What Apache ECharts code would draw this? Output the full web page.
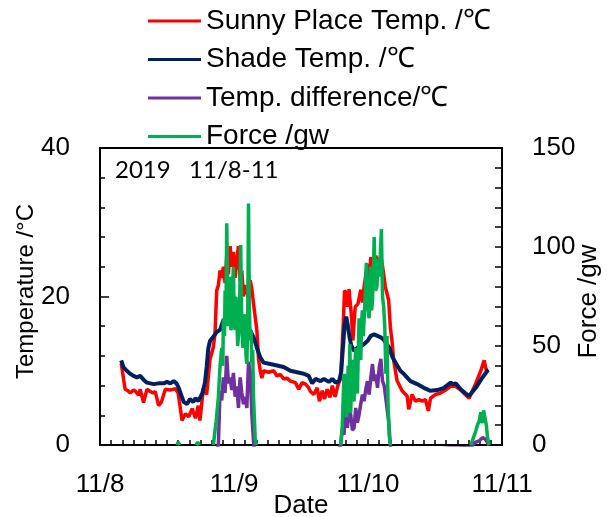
<!DOCTYPE html>
<html>
<head>
<meta charset="utf-8">
<script src="https://cdn.jsdelivr.net/npm/echarts@6/dist/echarts.min.js"></script>
<style>html,body{margin:0;padding:0;background:#fff}#c{width:614px;height:517px}</style>
</head>
<body>
<div id="c"></div>
<script>
// Hours since 11/8 00:00
const dateLabels = ['11/8', '11/9', '11/10', '11/11'];
const seriesNames = ['Sunny Place Temp. /\u2103', 'Shade Temp. /\u2103', 'Temp. difference/\u2103', 'Force /gw'];

const sunnyHours = [3.8,4.2,4.5,5.0,5.4,6.0,6.4,6.9,7.2,7.8,8.4,9.0,9.5,9.9,10.5,11.0,11.7,12.6,13.5,14.0,14.2,14.7,15.3,15.9,16.5,17.1,17.6,17.9,18.5,19.1,19.7,20.3,20.6,20.9,21.2,21.5,21.8,22.1,22.4,22.7,23.0,23.3,23.6,23.9,24.2,24.5,24.8,25.1,25.4,25.7,26.0,26.3,26.6,26.9,27.2,27.5,28.1,28.4,28.7,29.0,29.3,29.6,30.2,31.1,31.7,32.3,32.9,33.5,34.1,35.0,35.6,36.2,36.8,37.3,37.7,38.3,38.9,39.3,39.8,40.2,40.7,41.2,41.6,42.1,42.6,43.1,43.6,43.8,44.1,44.3,44.6,45.0,45.3,45.7,46.2,46.7,47.0,47.3,47.9,48.2,48.5,49.0,49.4,49.8,50.3,50.7,51.1,51.7,52.0,52.3,52.6,53.2,54.1,55.0,55.3,55.9,56.5,57.1,57.7,58.3,58.8,59.2,60.1,61.0,61.9,62.8,63.7,64.6,65.4,66.1,67.3,68.2,68.8,69.2,69.5];
const sunnyTemp = [11.0,9.0,7.5,7.3,7.0,7.4,7.2,6.7,7.5,5.7,7.5,7.2,7.0,7.2,5.3,5.8,7.5,7.4,7.6,7.0,5.9,3.3,4.2,3.8,4.9,3.6,5.3,3.3,7.6,6.8,11.5,13.2,15.0,20.8,21.5,23.5,22.5,24.0,21.8,25.5,23.0,26.8,24.0,26.0,22.5,25.0,26.8,22.0,23.5,20.0,21.5,20.8,19.5,22.2,21.0,19.0,15.4,11.5,10.0,9.0,10.0,9.8,9.8,10.0,9.3,9.5,8.9,9.0,8.6,8.4,7.5,8.4,8.2,7.8,7.2,6.8,7.7,5.9,7.3,6.2,7.5,6.4,8.0,6.5,8.0,9.0,16.8,20.8,20.5,18.6,21.0,17.7,14.1,18.6,19.0,20.9,19.2,21.3,24.4,21.8,25.3,23.1,25.5,24.0,25.5,23.6,21.3,19.5,15.9,14.0,11.4,8.7,7.3,6.6,4.8,6.8,5.9,6.1,5.9,6.1,4.6,6.3,6.8,7.0,7.4,7.9,7.9,7.4,6.8,6.3,8.3,10.0,11.4,10.0,10.2];

const shadeHours = [3.8,4.2,4.8,5.4,6.0,6.6,7.2,7.8,8.4,9.0,9.6,10.5,11.4,12.0,12.6,13.2,13.7,14.1,14.7,15.0,15.6,16.1,16.7,17.1,17.6,18.3,18.8,19.1,19.4,19.7,20.3,20.9,21.5,22.1,22.6,23.0,23.3,23.6,24.0,24.5,25.1,25.7,26.3,26.9,27.5,28.1,28.7,29.3,30.5,31.7,32.9,34.1,35.3,36.5,37.4,38.0,38.6,39.5,40.1,41.0,41.6,42.2,42.8,43.2,43.5,43.8,44.1,44.4,44.7,45.0,45.5,46.1,46.7,47.3,47.9,48.5,49.1,49.7,50.3,50.9,51.8,52.4,53.0,53.8,54.4,55.1,55.6,56.8,58.0,59.2,60.4,61.6,62.8,63.2,63.7,64.6,65.4,66.1,67.3,68.5,69.4,69.6];
const shadeTemp = [11.4,10.5,10.0,9.6,9.3,9.1,9.3,8.8,8.4,8.3,8.2,8.3,8.3,8.5,8.3,8.6,8.3,7.7,6.4,5.8,5.5,6.2,5.8,6.3,5.9,6.9,8.4,10.5,13.0,14.0,14.6,15.2,15.5,16.8,17.0,17.7,17.2,17.5,16.5,15.9,15.7,15.9,15.6,15.4,14.5,13.1,11.8,11.1,10.9,10.7,10.5,10.0,9.8,9.6,9.3,8.3,8.9,8.6,8.9,8.5,8.9,8.4,8.6,9.8,13.0,16.0,17.3,16.0,14.5,13.4,12.7,13.1,13.3,13.6,14.0,14.7,14.9,14.7,14.5,14.1,13.1,11.8,11.0,10.0,9.6,9.0,8.6,8.2,7.7,7.3,7.4,7.7,8.4,8.2,8.3,7.5,7.0,6.6,7.7,9.1,10.0,10.1];

const diffHours = [3.8,5,7,9,11,13,15,17,19,20.5,21.2,21.5,21.8,22.1,22.4,22.7,23.0,23.3,23.6,23.9,24.2,24.5,24.8,25.1,25.4,25.7,26.0,26.3,26.6,26.9,27.2,27.5,27.8,30,33,36,39,42,43.1,43.4,43.7,44.0,44.3,44.6,44.9,45.2,45.5,45.8,46.1,46.4,46.7,47.0,47.3,47.6,47.9,48.2,48.5,48.8,49.1,49.4,49.7,50.0,50.3,50.6,50.9,51.1,51.4,51.7,52.0,52.3,55,58,61,62.8,64,66.3,67.3,68.0,68.5,69.0,69.5,69.6];
const diffTemp = [-0.4,-2.5,-2.2,-1.1,-2.5,-0.9,-2.0,-2.5,-1.5,-1.2,0,7.3,6.0,9.1,7.0,12.0,8.3,9.1,7.4,9.7,6.5,7.9,5.0,9.1,7.0,5.5,6.5,5.0,11.2,9.9,4.1,0.5,-1.5,-1.0,-1.5,-1.2,-2.2,-1.5,0,2.0,1.4,5.0,2.3,4.5,4.1,2.0,2.3,5.0,3.0,4.1,5.5,6.8,5.9,7.5,8.6,6.8,9.0,10.9,8.6,9.5,7.7,10.4,11.6,8.6,8.0,6.8,5.0,3.2,0,-1.5,-2.0,-2.5,-0.5,-0.4,-0.4,-0.3,0.4,0.6,1.0,0.8,0.2,-0.1];

const forceHours = [13.8,14.0,14.3,null,17.2,17.5,17.8,null,20.3,20.8,21.2,21.5,21.8,22.0,22.1,22.3,22.4,22.55,22.7,22.85,23.0,23.15,23.3,23.45,23.6,23.75,23.9,24.05,24.2,24.35,24.5,24.65,24.8,25.0,25.2,25.4,25.6,25.8,26.0,26.15,26.3,26.45,26.6,26.75,26.9,27.05,27.2,27.35,27.5,27.8,28.0,null,43.1,43.4,43.7,43.85,44.0,44.15,44.3,44.45,44.6,44.75,44.9,45.05,45.2,45.35,45.5,45.65,45.8,45.95,46.1,46.25,46.4,46.55,46.7,46.85,47.0,47.15,47.3,47.5,47.7,47.95,48.2,48.35,48.5,48.65,48.8,48.95,49.1,49.35,49.6,49.8,50.0,50.2,50.4,50.6,50.8,51.0,51.2,51.4,51.6,51.8,52.0,null,66.4,66.8,67.3,67.6,67.9,68.2,68.5,68.7,69.0,69.2,69.4,69.7];
const forceGw = [0,1.5,0,null,0,1.5,0,null,0,12,24,40,49,40,64,55,78,60,112,80,73,60,85,58,61,80,90,62,58,75,68,50,55,70,101,60,49,66,61,45,41,60,122,70,53,58,41,48,24,3,0,null,0,10,36,20,36,14,19,40,26,51,16,30,43,25,22,40,49,30,26,45,64,50,43,62,68,55,63,75,92,70,64,80,90,68,73,85,105,78,80,94,85,96,109,75,70,60,36,55,20,5,0,null,0,3,7,10,12,16.5,11,17.5,17,10,4,0];

function pairs(hs, vs) {
  return hs.map((h, i) => (h === null ? [null, null] : [h, vs[i]]));
}

const FONT = '"Liberation Sans", Arial, sans-serif';
const chart = echarts.init(document.getElementById('c'), null, { renderer: 'canvas' });
const colors = ['#FF0000', '#002060', '#7030A0', '#00B050'];

chart.setOption({
  animation: false,
  color: colors,
  grid: { left: 100, right: 112, top: 148, bottom: 72, outerBoundsMode: 'none', containLabel: false,
          show: true, borderColor: '#000', borderWidth: 2, backgroundColor: 'transparent' },
  legend: {
    orient: 'vertical',
    left: 148,
    top: 7,
    padding: 0,
    icon: 'rect',
    itemWidth: 53,
    itemHeight: 3,
    itemGap: 10.5,
    textStyle: { fontSize: 28, color: '#000', fontFamily: FONT, lineHeight: 28 },
    data: seriesNames
  },
  graphic: [{
    type: 'text', left: 115, top: 158,
    style: { text: '2019   11/8-11', font: '24px Lato, "Open Sans", sans-serif', fill: '#000' }
  }],
  xAxis: {
    type: 'value', min: 0, max: 72, interval: 24,
    name: 'Date', nameLocation: 'middle', nameGap: 48, nameMoveOverlap: false,
    nameTextStyle: { fontSize: 26, color: '#000', fontFamily: FONT },
    axisLine: { show: true, lineStyle: { color: '#000', width: 2 } },
    axisTick: { show: true, inside: true, length: 6, lineStyle: { color: '#000', width: 1.5 } },
    minorTick: { show: true, splitNumber: 12, length: 5, lineStyle: { color: '#000', width: 1.5 } },
    splitLine: { show: false },
    axisLabel: { fontSize: 26, color: '#000', fontFamily: FONT, margin: 27, formatter: v => dateLabels[Math.round(v / 24)] }
  },
  yAxis: [{
    type: 'value', min: 0, max: 40, interval: 20, position: 'left',
    name: 'Temperature /\u00B0C', nameLocation: 'middle', nameGap: 62, nameMoveOverlap: false,
    nameTextStyle: { fontSize: 24, color: '#000', fontFamily: FONT, padding: [0, 0, 0, 10] },
    axisLine: { show: true, lineStyle: { color: '#000', width: 2 } },
    axisTick: { show: true, inside: true, length: 9, lineStyle: { color: '#000', width: 1.5 } },
    minorTick: { show: true, splitNumber: 5, length: 5, lineStyle: { color: '#000', width: 1.5 } },
    splitLine: { show: false },
    axisLabel: { fontSize: 26, color: '#000', fontFamily: FONT, margin: 30 }
  }, {
    type: 'value', min: 0, max: 150, interval: 50, position: 'right',
    name: 'Force /gw', nameLocation: 'middle', nameGap: 74, nameMoveOverlap: false,
    nameTextStyle: { fontSize: 26, color: '#000', fontFamily: FONT, padding: [0, 10, 0, 0] },
    axisLine: { show: true, lineStyle: { color: '#000', width: 2 } },
    axisTick: { show: true, inside: true, length: 7, lineStyle: { color: '#000', width: 1.5 } },
    minorTick: { show: true, splitNumber: 5, length: 7, lineStyle: { color: '#000', width: 1.5 } },
    splitLine: { show: false },
    axisLabel: { fontSize: 26, color: '#000', fontFamily: FONT, margin: 30 }
  }],
  series: [
    { name: seriesNames[0], type: 'line', yAxisIndex: 0, symbol: 'none', clip: true,
      lineStyle: { width: 3.5, color: colors[0] }, data: pairs(sunnyHours, sunnyTemp) },
    { name: seriesNames[1], type: 'line', yAxisIndex: 0, symbol: 'none', clip: true,
      lineStyle: { width: 4, color: colors[1] }, data: pairs(shadeHours, shadeTemp) },
    { name: seriesNames[2], type: 'line', yAxisIndex: 0, symbol: 'none', clip: true,
      lineStyle: { width: 3.5, color: colors[2] }, data: pairs(diffHours, diffTemp) },
    { name: seriesNames[3], type: 'line', yAxisIndex: 1, symbol: 'none', clip: true, connectNulls: false,
      lineStyle: { width: 3.5, color: colors[3] }, data: pairs(forceHours, forceGw) }
  ]
});
</script>
</body>
</html>
